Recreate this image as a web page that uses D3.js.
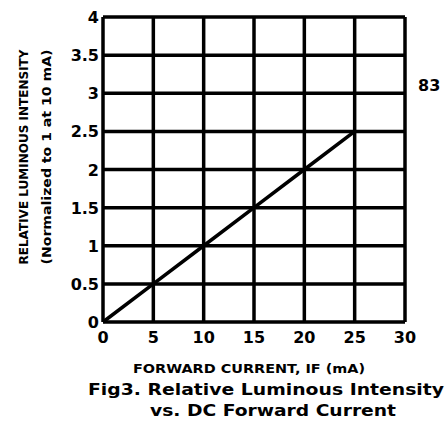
<!DOCTYPE html>
<html>
<head>
<meta charset="utf-8">
<script src="https://cdn.jsdelivr.net/npm/d3@7"></script>
<style>
body { margin: 0; background: #fff; }
text { font-family: "DejaVu Sans", sans-serif; font-weight: bold; fill: #000; }
</style>
</head>
<body>
<script>
// forward current (mA) vs relative luminous intensity
var current = [0, 5, 10, 15, 20, 25];
var intensity = [0, 0.5, 1, 1.5, 2, 2.5];
var xTicks = [0, 5, 10, 15, 20, 25, 30];
var yTicks = [0, 0.5, 1, 1.5, 2, 2.5, 3, 3.5, 4];

var width = 448, height = 425;
var margin = {left: 103, right: 43, top: 17, bottom: 103};

var svg = d3.select('body').append('svg')
	.attr('width', width)
	.attr('height', height);

var x = d3.scaleLinear().domain([0, 30]).range([margin.left, width - margin.right]);
var y = d3.scaleLinear().domain([0, 4]).range([height - margin.bottom, margin.top]);

// grid
svg.append('g').selectAll('line.v')
	.data(xTicks)
	.enter().append('line')
	.attr('x1', d => x(d)).attr('x2', d => x(d))
	.attr('y1', y(0)).attr('y2', y(4))
	.attr('stroke', '#000').attr('stroke-width', 3.5);

svg.append('g').selectAll('line.h')
	.data(yTicks)
	.enter().append('line')
	.attr('x1', x(0)).attr('x2', x(30))
	.attr('y1', d => y(d)).attr('y2', d => y(d))
	.attr('stroke', '#000').attr('stroke-width', 3.5);

// the curve
var line = d3.line().x((d, i) => x(current[i])).y(d => y(d));
svg.append('path')
	.datum(intensity)
	.attr('d', line)
	.attr('fill', 'none')
	.attr('stroke', '#000')
	.attr('stroke-width', 3.5);

// tick labels
svg.append('g').selectAll('text')
	.data(xTicks)
	.enter().append('text')
	.attr('x', d => x(d))
	.attr('y', 343)
	.attr('text-anchor', 'middle')
	.style('font-size', '16px')
	.text(d => d);

svg.append('g').selectAll('text')
	.data(yTicks)
	.enter().append('text')
	.attr('x', 99)
	.attr('y', d => y(d) + 6)
	.attr('text-anchor', 'end')
	.style('font-size', '16px')
	.text(d => d);

// y title, two rows
svg.append('text')
	.attr('transform', 'translate(28,157) rotate(-90)')
	.attr('text-anchor', 'middle')
	.attr('textLength', 215)
	.attr('lengthAdjust', 'spacingAndGlyphs')
	.style('font-size', '13px')
	.text('RELATIVE LUMINOUS INTENSITY');
svg.append('text')
	.attr('transform', 'translate(51,157) rotate(-90)')
	.attr('text-anchor', 'middle')
	.attr('textLength', 215)
	.attr('lengthAdjust', 'spacingAndGlyphs')
	.style('font-size', '13px')
	.text('(Normalized to 1 at 10 mA)');

// x title and caption
svg.append('text')
	.attr('x', 249).attr('y', 373)
	.attr('text-anchor', 'middle')
	.attr('textLength', 232)
	.attr('lengthAdjust', 'spacingAndGlyphs')
	.style('font-size', '13px')
	.text('FORWARD CURRENT, IF (mA)');
svg.append('text')
	.attr('x', 266).attr('y', 395)
	.attr('text-anchor', 'middle')
	.attr('textLength', 356)
	.attr('lengthAdjust', 'spacingAndGlyphs')
	.style('font-size', '16px')
	.text('Fig3. Relative Luminous Intensity');
svg.append('text')
	.attr('x', 273).attr('y', 416)
	.attr('text-anchor', 'middle')
	.attr('textLength', 246)
	.attr('lengthAdjust', 'spacingAndGlyphs')
	.style('font-size', '16px')
	.text('vs. DC Forward Current');

svg.append('text')
	.attr('x', 418).attr('y', 91)
	.style('font-size', '16px')
	.text('83');
</script>
</body>
</html>
